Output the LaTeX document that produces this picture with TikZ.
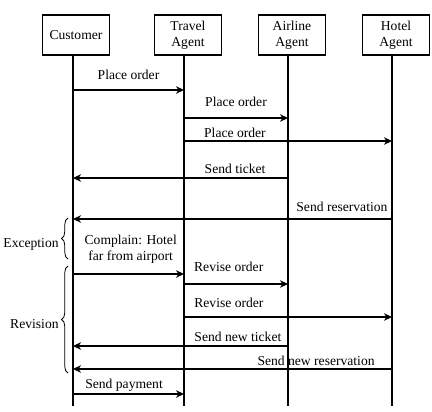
\documentclass[tikz,border=0pt]{standalone}
\usepackage{fontspec}
\setmainfont{Liberation Serif}
\usepackage{tikz}
\usetikzlibrary{arrows.meta, positioning, calc, decorations.pathreplacing}

\begin{document}
\begin{tikzpicture}[
    x=1pt, y=-1pt,
    actor/.style={draw, line width=1.1pt, minimum width=67pt, minimum height=40pt, align=center, inner sep=1pt, font=\fontsize{13.6}{16}\selectfont},
    life/.style={line width=1.1pt},
    msg/.style={-{Stealth[length=8pt, width=7.5pt, inset=2.5pt]}, line width=1.1pt},
    lbl/.style={font=\fontsize{13.6}{16}\selectfont, align=center, inner sep=0pt},
    brace/.style={decorate, decoration={brace, amplitude=6.5pt}, line width=0.8pt}
]
    \useasboundingbox (0,0) rectangle (432,412);

    \node[actor] (cust) at (76,35) {Customer};
    \node[actor] (trav) at (188,35) {Travel\\Agent};
    \node[actor] (air) at (292,35) {Airline\\Agent};
    \node[actor] (hotel) at (396,35) {Hotel\\Agent};

    \coordinate (c) at ([xshift=-3pt]cust.south);
    \coordinate (t) at ([xshift=-4pt]trav.south);
    \coordinate (a) at ([xshift=-4pt]air.south);
    \coordinate (h) at ([xshift=-4pt]hotel.south);
    \coordinate (cEnd) at (c |- 0,406);
    \coordinate (tEnd) at (t |- 0,406);
    \coordinate (aEnd) at (a |- 0,406);
    \coordinate (hEnd) at (h |- 0,406);

    \draw[life] (c) -- (cEnd);
    \draw[life] (t) -- (tEnd);
    \draw[life] (a) -- (aEnd);
    \draw[life] (h) -- (hEnd);

    \draw[msg] (c |- 0,90) -- node[lbl, midway, yshift=15pt] {Place order} (t |- 0,90);
    \draw[msg] (t |- 0,118) -- node[lbl, midway, yshift=16pt] {Place order} (a |- 0,118);
    \draw[msg] (t |- 0,141) -- node[lbl, pos=0.245, yshift=8pt] {Place order} (h |- 0,141);
    \draw[msg] (a |- 0,178) -- node[lbl, pos=0.246, yshift=9pt] {Send ticket} (c |- 0,178);
    \draw[msg] (h |- 0,219) -- node[lbl, pos=0.157, yshift=12pt] {Send reservation} (c |- 0,219);
    \draw[msg] (c |- 0,274) -- node[lbl, pos=0.52, yshift=25pt] {Complain: Hotel\\far from airport} (t |- 0,274);
    \draw[msg] (t |- 0,284) -- node[lbl, pos=0.43, yshift=17pt] {Revise order} (a |- 0,284);
    \draw[msg] (t |- 0,317) -- node[lbl, pos=0.216, yshift=14pt] {Revise order} (h |- 0,317);
    \draw[msg] (a |- 0,346) -- node[lbl, pos=0.233, yshift=9pt] {Send new ticket} (c |- 0,346);
    \draw[msg] (h |- 0,369) -- node[lbl, pos=0.238, yshift=8pt] {Send new reservation} (c |- 0,369);
    \draw[msg] (c |- 0,394) -- node[lbl, pos=0.46, yshift=9pt] {Send payment} (t |- 0,394);

    \draw[brace] (68,259) -- node[lbl, left=9pt, yshift=-6pt] (exc) {Exception} (68,218);
    \draw[brace] (68,373) -- node[lbl, left=9pt, yshift=-5pt] (rev) {Revision} (68,266);
\end{tikzpicture}
\end{document}
